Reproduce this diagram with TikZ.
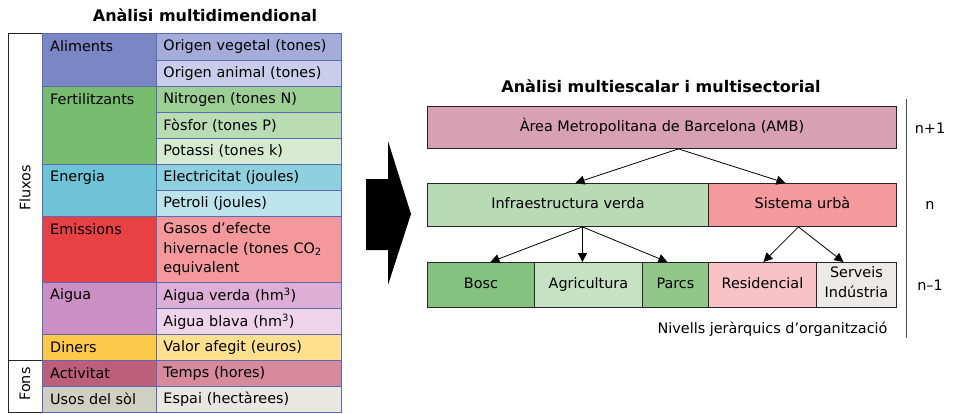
\documentclass[tikz,border=0pt]{standalone}
\usepackage{fontspec}
\setmainfont{DejaVu Sans}
\usetikzlibrary{arrows.meta}

\definecolor{tblue}{HTML}{5A6BB5}
\definecolor{alimA}{HTML}{7B86C4}\definecolor{alimB}{HTML}{A5ACD9}\definecolor{alimC}{HTML}{C9CCEB}
\definecolor{fertA}{HTML}{77BB6F}\definecolor{fertB}{HTML}{9DCE95}\definecolor{fertC}{HTML}{B9DCB3}\definecolor{fertD}{HTML}{D6EACF}
\definecolor{enerA}{HTML}{6EC3D6}\definecolor{enerB}{HTML}{8FD0DF}\definecolor{enerC}{HTML}{BDE3EC}
\definecolor{emisA}{HTML}{E84145}\definecolor{emisB}{HTML}{F4989B}
\definecolor{aiguA}{HTML}{CC8FC3}\definecolor{aiguB}{HTML}{DDAED6}\definecolor{aiguC}{HTML}{EED3EA}
\definecolor{dinA}{HTML}{FDC94A}\definecolor{dinB}{HTML}{FEE08F}
\definecolor{actA}{HTML}{BD5F7A}\definecolor{actB}{HTML}{D78A9E}
\definecolor{usoA}{HTML}{D0CFC4}\definecolor{usoB}{HTML}{E8E7E2}
\definecolor{amb}{HTML}{D8A1B3}\definecolor{infra}{HTML}{B8DAB5}\definecolor{urba}{HTML}{F4999C}
\definecolor{bosc}{HTML}{84C27F}\definecolor{agri}{HTML}{C5E2C2}\definecolor{parc}{HTML}{90C88A}
\definecolor{resi}{HTML}{F8C2C6}\definecolor{serv}{HTML}{EBEAE6}

\tikzset{
  itm/.style = {draw=tblue, line width=0.9pt, anchor=north west, minimum width=185pt, minimum height=26pt, inner xsep=7pt, text width=171pt, align=left},
  cat/.style = {draw=tblue, line width=0.9pt, anchor=north west, minimum width=114pt},
  cattxt/.style = {anchor=north west, minimum height=26pt, inner xsep=8pt},
  side/.style = {draw=black!85, line width=0.9pt, anchor=north west, minimum width=34pt},
  lvl/.style = {draw=black!85, line width=0.9pt, anchor=north west, minimum height=43pt, align=center, inner sep=0pt,
                execute at begin node=\strut, execute at end node=\strut},
  arr/.style = {-{Triangle[length=9pt,width=9pt]}, line width=0.8pt},
  ttl/.style = {font=\fontsize{16}{19}\selectfont\bfseries},
}

\begin{document}
\begin{tikzpicture}[x=1pt, y=-1pt, font=\fontsize{14.4}{19.5}\selectfont]
  \useasboundingbox (0,0) rectangle (954,413);

  % multidimensional table
  \node[ttl] (title1) at (205,15) {Anàlisi multidimendional};
  \node[side, minimum height=327pt] (fluxos) at (8,33) {};
  \node[side, minimum height=52pt] (fons) at (8,360) {};
  \node[rotate=90] (fluxosT) at (25,188) {Fluxos};
  \node[rotate=90] (fonsT) at (25,384) {Fons};

  \node[cat, fill=alimA, minimum height=53pt] (alim) at (42,33) {};
  \node[cat, fill=fertA, minimum height=78pt] (fert) at (42,86) {};
  \node[cat, fill=enerA, minimum height=52pt] (ener) at (42,164) {};
  \node[cat, fill=emisA, minimum height=66pt] (emis) at (42,216) {};
  \node[cat, fill=aiguA, minimum height=52pt] (aigu) at (42,282) {};
  \node[cat, fill=dinA, minimum height=26pt] (din) at (42,334) {};
  \node[cat, fill=actA, minimum height=26pt] (act) at (42,360) {};
  \node[cat, fill=usoA, minimum height=26pt] (uso) at (42,386) {};
  \node[cattxt] (alimT) at (alim.north west) {Aliments};
  \node[cattxt] (fertT) at (fert.north west) {Fertilitzants};
  \node[cattxt] (enerT) at (ener.north west) {Energia};
  \node[cattxt] (emisT) at (emis.north west) {Emissions};
  \node[cattxt] (aiguT) at (aigu.north west) {Aigua};
  \node[cattxt] (dinT) at (din.north west) {Diners};
  \node[cattxt] (actT) at (act.north west) {Activitat};
  \node[cattxt] (usoT) at (uso.north west) {Usos del sòl};

  \node[itm, fill=alimB, minimum height=27pt] (veg) at (156,33) {Origen vegetal (tones)};
  \node[itm, fill=alimC] (ani) at (156,60) {Origen animal (tones)};
  \node[itm, fill=fertB] (nit) at (156,86) {Nitrogen (tones N)};
  \node[itm, fill=fertC] (fos) at (156,112) {Fòsfor (tones P)};
  \node[itm, fill=fertD] (pot) at (156,138) {Potassi (tones k)};
  \node[itm, fill=enerB] (ele) at (156,164) {Electricitat (joules)};
  \node[itm, fill=enerC] (pet) at (156,190) {Petroli (joules)};
  \node[itm, fill=emisB, minimum height=66pt] (gas) at (156,216) {Gasos d’efecte\\hivernacle (tones CO\textsubscript{2}\\equivalent};
  \node[itm, fill=aiguB] (ave) at (156,282) {Aigua verda (hm\textsuperscript{3})};
  \node[itm, fill=aiguC] (abl) at (156,308) {Aigua blava (hm\textsuperscript{3})};
  \node[itm, fill=dinB] (val) at (156,334) {Valor afegit (euros)};
  \node[itm, fill=actB] (tem) at (156,360) {Temps (hores)};
  \node[itm, fill=usoB] (esp) at (156,386) {Espai (hectàrees)};

  % big arrow
  \fill (366,179) -- (388,179) -- (388,141) -- (411,214) -- (388,285) -- (388,250) -- (366,250) -- cycle;

  % multiscale levels
  \node[ttl] (title2) at (661,86) {Anàlisi multiescalar i multisectorial};
  \node[lvl, fill=amb, minimum width=469pt, minimum height=42pt] (amb) at (427,106) {Àrea Metropolitana de Barcelona (AMB)};
  \node[lvl, fill=infra, minimum width=281pt] (infra) at (427,183) {Infraestructura verda};
  \node[lvl, fill=urba, minimum width=188pt] (urba) at (708,183) {Sistema urbà};
  \node[lvl, fill=bosc, minimum width=107pt, minimum height=45pt] (bosc) at (427,262) {Bosc};
  \node[lvl, fill=agri, minimum width=108pt, minimum height=45pt] (agri) at (534,262) {Agricultura};
  \node[lvl, fill=parc, minimum width=66pt, minimum height=45pt] (parc) at (642,262) {Parcs};
  \node[lvl, fill=resi, minimum width=108pt, minimum height=45pt] (resi) at (708,262) {Residencial};
  \node[lvl, fill=serv, minimum width=80pt, minimum height=45pt] (serv) at (816,262) {Serveis\\Indústria};

  \coordinate (ambS) at ([xshift=16.5pt]amb.south);
  \coordinate (infraN) at ([xshift=7.5pt]infra.north);
  \coordinate (urbaN) at ([xshift=-17pt]urba.north);
  \coordinate (infraS) at ([xshift=14.5pt]infra.south);
  \coordinate (urbaS) at ([xshift=-4pt]urba.south);
  \coordinate (boscN) at ([xshift=9.5pt]bosc.north);
  \coordinate (agriN) at ([xshift=-6pt]agri.north);
  \coordinate (parcN) at ([xshift=-8pt]parc.north);
  \coordinate (resiN) at ([xshift=1pt]resi.north);
  \coordinate (servN) at ([xshift=-13pt]serv.north);
  \draw[arr] (ambS) -- (infraN);
  \draw[arr] (ambS) -- (urbaN);
  \draw[arr] (infraS) -- (boscN);
  \draw[arr] (infraS) -- (agriN);
  \draw[arr] (infraS) -- (parcN);
  \draw[arr] (urbaS) -- (resiN);
  \draw[arr] (urbaS) -- (servN);

  \node[anchor=east] (nivells) at (891,329) {Nivells jeràrquics d’organització};
  \coordinate (axisTop) at (906,99);
  \coordinate (axisBot) at (906,338);
  \draw[black!70, line width=1pt] (axisTop) -- (axisBot);
  \node (lvlA) at (930,128) {n+1};
  \node (lvlB) at (930,205) {n};
  \node (lvlC) at (930,285) {n–1};
\end{tikzpicture}
\end{document}
